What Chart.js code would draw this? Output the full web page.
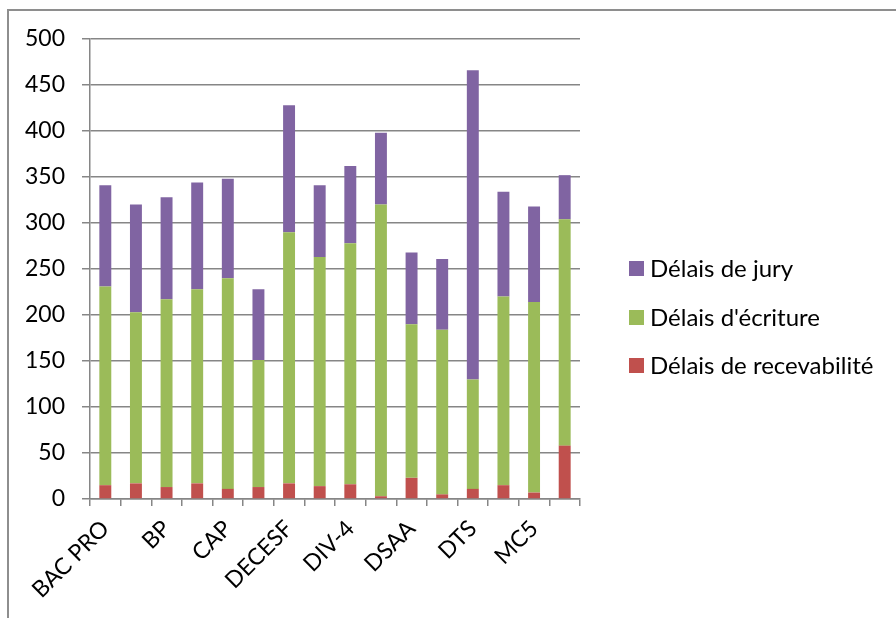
<!DOCTYPE html>
<html>
<head>
<meta charset="utf-8">
<script src="https://cdn.jsdelivr.net/npm/chart.js@4.4.1/dist/chart.umd.min.js"></script>
<style>
  body { margin: 0; background: #fff; overflow: hidden; }
  #wrap { position: relative; width: 896px; height: 618px; }
  #frame { position: absolute; left: 7px; top: 9px; width: 1000px; height: 1000px; border: 2px solid #8e8e8e; }
  canvas { position: absolute; left: 0; top: 0; }
  #legend { position: absolute; left: 629px; top: 253px; margin: 0; padding: 0; list-style: none;
    font-family: Lato, "DejaVu Sans", sans-serif; font-size: 24px; color: #000; }
  #legend li { height: 48.5px; display: flex; align-items: flex-start; white-space: nowrap; }
  #legend span.box { display: inline-block; width: 15px; height: 15px; margin: 8px 6px 0 0; }
</style>
</head>
<body>
<div id="wrap">
  <div id="frame"></div>
  <canvas id="chart" width="896" height="618"></canvas>
  <ul id="legend"></ul>
</div>
<script>
// diplômes (une étiquette sur deux est affichée sur l'axe)
const categories = ["BAC PRO", "BEP", "BP", "BTS", "CAP", "CS", "DECESF", "DEES",
  "DIV-4", "DNMADE", "DSAA", "DSCG", "DTS", "MC4", "MC5", "TP"];

// délais en jours
const recevabilite = [15, 17, 13, 17, 11, 13, 17, 14, 16, 3, 23, 5, 11, 15, 7, 58];
const ecriture = [216, 186, 204, 211, 229, 138, 273, 249, 262, 317, 167, 179, 119, 205, 207, 246];
const jury = [110, 117, 111, 116, 108, 77, 138, 78, 84, 78, 78, 77, 336, 114, 104, 48];

const seriesNames = ["Délais de recevabilité", "Délais d'écriture", "Délais de jury"];
const colors = ["#C0504D", "#9BBB59", "#8064A2"];

const gridColor = "#868686";
const font = { family: "Lato, 'DejaVu Sans', sans-serif", size: 23 };

const ctx = document.getElementById("chart");

const chart = new Chart(ctx, {
  type: "bar",
  data: {
    labels: categories,
    datasets: [recevabilite, ecriture, jury].map((values, i) => ({
      label: seriesNames[i],
      data: values,
      backgroundColor: colors[i],
      borderWidth: 0,
      categoryPercentage: 1,
      barPercentage: 0.39
    }))
  },
  options: {
    responsive: false,
    animation: false,
    layout: { padding: { top: 39, bottom: 0, left: 0, right: 316 } },
    plugins: {
      tooltip: { enabled: false },
      legend: { display: false }
    },
    scales: {
      x: {
        stacked: true,
        // hauteur fixe : les étiquettes sont coupées au bas de l'axe
        afterFit: s => { s.height = 119; },
        grid: {
          offset: true,
          drawOnChartArea: false,
          drawTicks: true,
          tickLength: 7,
          color: gridColor,
          lineWidth: 1.5
        },
        border: { color: gridColor, width: 1.5 },
        ticks: {
          color: "#000",
          font: font,
          autoSkip: false,
          minRotation: 45,
          maxRotation: 45,
          padding: 9,
          callback: (v, i) => (i % 2 === 0 ? categories[i] : "")
        }
      },
      y: {
        stacked: true,
        min: 0,
        max: 500,
        afterFit: s => { s.width = 90; },
        grid: {
          color: gridColor,
          lineWidth: 1.5,
          tickLength: 8
        },
        border: { color: gridColor, width: 1.5 },
        ticks: {
          stepSize: 50,
          color: "#000",
          font: font,
          padding: 17
        }
      }
    }
  }
});

// légende HTML, dans l'ordre inverse des séries (comme Excel)
const legendEl = document.getElementById("legend");
const items = Chart.defaults.plugins.legend.labels.generateLabels(chart).reverse();
items.forEach(item => {
  const li = document.createElement("li");
  const box = document.createElement("span");
  box.className = "box";
  box.style.background = item.fillStyle;
  li.appendChild(box);
  li.appendChild(document.createTextNode(item.text));
  legendEl.appendChild(li);
});
</script>
</body>
</html>
